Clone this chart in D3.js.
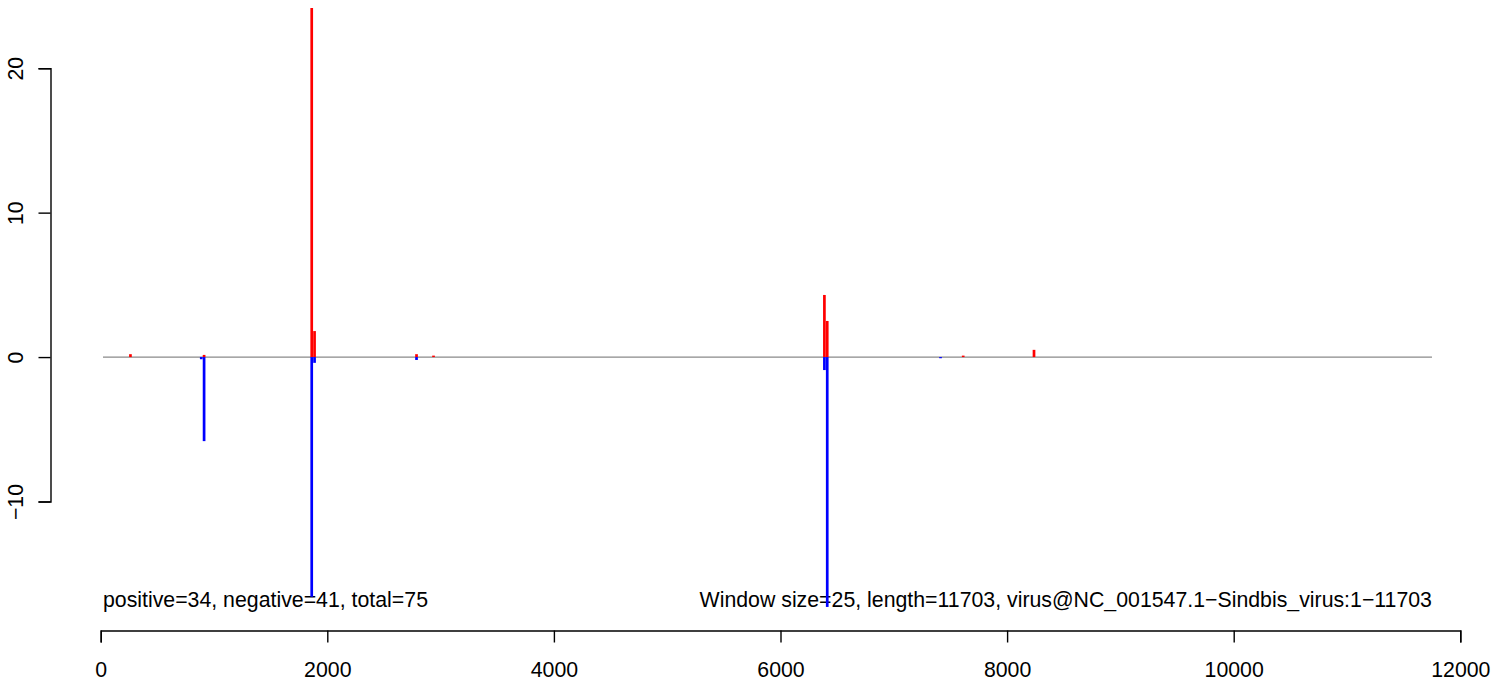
<!DOCTYPE html>
<html>
<head>
<meta charset="utf-8">
<script src="https://cdn.jsdelivr.net/npm/d3@7"></script>
<style>
  html, body { margin: 0; padding: 0; background: #fff; }
  svg text { font-family: "Liberation Sans", Arial, Helvetica, sans-serif; fill: #000; }
</style>
</head>
<body>
<svg id="chart" width="1495" height="681"></svg>
<script>
// ---- data ----
const positivePos = [262.5, 912.5, 1862.5, 1887.5, 2787.5, 2937.5, 6387.5, 6412.5, 7612.5, 8237.5];
const positiveVal = [0.2, 0.15, 24.2, 1.8, 0.2, 0.1, 4.3, 2.5, 0.1, 0.5];
const negativePos = [887.5, 912.5, 1862.5, 1887.5, 2787.5, 6387.5, 6412.5, 7412.5];
const negativeVal = [-0.15, -5.82, -16.6, -0.4, -0.2, -0.9, -17.3, -0.08];
const xTicks = [0, 2000, 4000, 6000, 8000, 10000, 12000];
const yTicks = [-10, 0, 10, 20];
const baselineRange = [20, 11750];
const leftNote = "positive=34, negative=41, total=75";
const rightNote = "Window size=25, length=11703, virus@NC_001547.1\u2212Sindbis_virus:1\u221211703";

// ---- scales ----
const x = d3.scaleLinear().domain([0, 12000]).range([100.7, 1460.3]);
const y = d3.scaleLinear().domain([-10, 20]).range([501.5, 68.2]);

const svg = d3.select("#chart");
const fmt = d => (d < 0 ? "\u2212" + Math.abs(d) : String(d));
const FS = 21.3;

// x axis
const xAxis = svg.append("g").attr("transform", "translate(0,630.5)")
  .call(d3.axisBottom(x).tickValues(xTicks).tickFormat(fmt).tickSizeOuter(0).tickSize(12));
xAxis.select(".domain").attr("stroke", "#000").attr("stroke-width", 1.4);
xAxis.selectAll(".tick line").attr("stroke", "#000").attr("stroke-width", 1.4);
xAxis.selectAll(".tick text")
  .attr("font-size", FS).attr("font-family", "Liberation Sans, Arial, sans-serif").attr("fill", "#000")
  .attr("y", 46.5).attr("dy", null);

// y axis
const yAxis = svg.append("g").attr("transform", "translate(50.5,0)")
  .call(d3.axisLeft(y).tickValues(yTicks).tickFormat(fmt).tickSizeOuter(0).tickSize(12));
yAxis.select(".domain").attr("stroke", "#000").attr("stroke-width", 1.4);
yAxis.selectAll(".tick line").attr("stroke", "#000").attr("stroke-width", 1.4);
yAxis.selectAll(".tick text")
  .attr("font-size", FS).attr("font-family", "Liberation Sans, Arial, sans-serif").attr("fill", "#000")
  .attr("text-anchor", "middle").attr("dy", null)
  .attr("x", 0).attr("y", 0)
  .attr("transform", "translate(-27.5,0) rotate(-90)");

// baseline
svg.append("line")
  .attr("x1", x(baselineRange[0])).attr("x2", x(baselineRange[1]))
  .attr("y1", y(0)).attr("y2", y(0))
  .attr("stroke", "#8a8a8a").attr("stroke-width", 1.3);

// notes
svg.append("text").attr("x", x(baselineRange[0])).attr("y", 607)
  .attr("font-size", FS).text(leftNote);
svg.append("text").attr("x", x(baselineRange[1])).attr("y", 607)
  .attr("font-size", FS).attr("text-anchor", "end").text(rightNote);

// bars
const gp = svg.append("g");
gp.selectAll("line.pos").data(positivePos.map((p, i) => [p, positiveVal[i]]))
  .join("line").attr("class", "pos")
  .attr("x1", d => x(d[0])).attr("x2", d => x(d[0]))
  .attr("y1", y(0)).attr("y2", d => Math.max(8, y(d[1])))
  .attr("stroke", "#ff0000").attr("stroke-width", 2.7);
gp.selectAll("line.neg").data(negativePos.map((p, i) => [p, negativeVal[i]]))
  .join("line").attr("class", "neg")
  .attr("x1", d => x(d[0])).attr("x2", d => x(d[0]))
  .attr("y1", y(0)).attr("y2", d => y(d[1]))
  .attr("stroke", "#0000ff").attr("stroke-width", 2.7);
</script>
</body>
</html>
